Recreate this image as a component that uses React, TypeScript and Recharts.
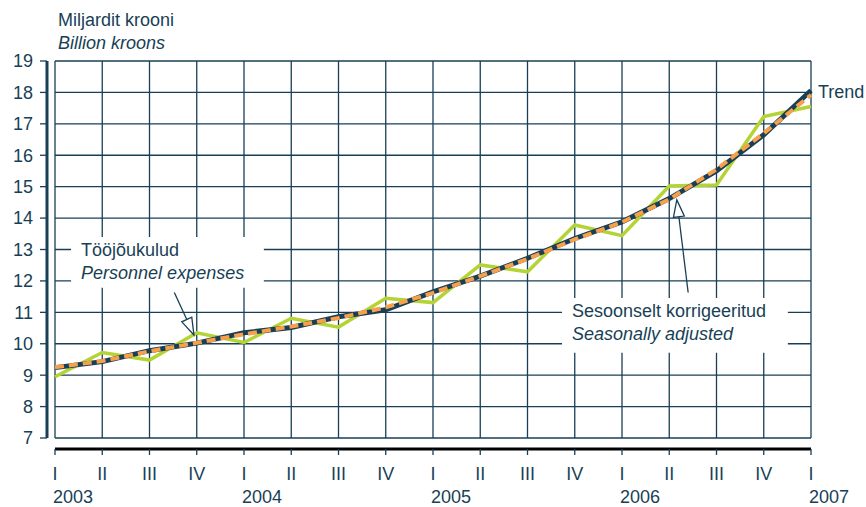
import { CartesianGrid, LabelList, Line, LineChart, ReferenceArea, ReferenceLine, XAxis, YAxis } from 'recharts'

const quarters = ['I', 'II', 'III', 'IV', 'I', 'II', 'III', 'IV', 'I', 'II', 'III', 'IV', 'I', 'II', 'III', 'IV', 'I']
const years = ['2003', '', '', '', '2004', '', '', '', '2005', '', '', '', '2006', '', '', '', '2007']

// Tööjõukulud (unadjusted), seasonally adjusted and trend, bn EEK
const personnel = [8.95, 9.72, 9.48, 10.35, 10.04, 10.81, 10.53, 11.45, 11.31, 12.51, 12.29, 13.78, 13.44, 15.02, 15.05, 17.23, 17.55]
const seasonal = [9.25, 9.45, 9.76, 10.03, 10.3, 10.55, 10.82, 11.16, 11.62, 12.15, 12.7, 13.32, 13.87, 14.6, 15.55, 16.7, 17.92]
const trend = [9.24, 9.43, 9.78, 10.02, 10.35, 10.52, 10.86, 11.08, 11.65, 12.15, 12.72, 13.35, 13.88, 14.62, 15.5, 16.65, 18.06]

const yTicks = [7, 8, 9, 10, 11, 12, 13, 14, 15, 16, 17, 18, 19]

const data = quarters.map((q, i) => ({
  idx: i,
  personnel: personnel[i],
  seasonal: seasonal[i],
  trend: trend[i],
}))
const xTicks = data.map((d) => d.idx)

const NAVY = '#183f56'
const GREEN = '#b4d334'
const ORANGE = '#f7a04b'
const FONT = '"Liberation Sans", Arial, sans-serif'

const QuarterTick = ({ x, y, payload }: any) => {
  const i = payload.value as number
  return (
    <g>
      <text x={x} y={y + 23} textAnchor="middle" fill={NAVY} fontSize={18} fontFamily={FONT}>
        {quarters[i]}
      </text>
      {years[i] && (
        <text x={x - 2} y={y + 46} textAnchor="start" fill={NAVY} fontSize={18} fontFamily={FONT}>
          {years[i]}
        </text>
      )}
    </g>
  )
}

const boxLabel = (lines: string[]) => (props: any) => {
  const { x, y } = props.viewBox
  return (
    <g>
      <text x={x + 10} y={y + 19} fill={NAVY} fontSize={18} fontFamily={FONT}>
        {lines[0]}
      </text>
      <text x={x + 10} y={y + 42} fill={NAVY} fontSize={18} fontStyle="italic" fontFamily={FONT}>
        {lines[1]}
      </text>
    </g>
  )
}

const Arrow = (props: any) => {
  const { x1, y1, x2, y2 } = props
  const dx = x2 - x1
  const dy = y2 - y1
  const len = Math.sqrt(dx * dx + dy * dy)
  const ux = dx / len
  const uy = dy / len
  const head = 17
  const half = 5.5
  const bx = x2 - ux * head
  const by = y2 - uy * head
  const pts = `${x2},${y2} ${bx - uy * half},${by + ux * half} ${bx + uy * half},${by - ux * half}`
  return (
    <g>
      <line x1={x1} y1={y1} x2={bx} y2={by} stroke={NAVY} strokeWidth={1.3} />
      <polygon points={pts} fill="#ffffff" stroke={NAVY} strokeWidth={1.3} />
    </g>
  )
}

const TrendLabel = (props: any) => {
  const { x, y, index } = props
  if (index !== trend.length - 1) return null
  return (
    <text x={x + 7} y={y + 7} fill={NAVY} fontSize={18} fontFamily={FONT}>
      Trend
    </text>
  )
}

export default function App() {
  return (
    <div style={{ position: 'absolute', left: 0, top: 0, width: 866, height: 507, background: '#fff', fontFamily: FONT }}>
      <div style={{ position: 'absolute', left: 58, top: 11, fontSize: 18, lineHeight: '18px', color: NAVY }}>
        Miljardit krooni
      </div>
      <div style={{ position: 'absolute', left: 58, top: 34, fontSize: 18, lineHeight: '18px', color: NAVY, fontStyle: 'italic' }}>
        Billion kroons
      </div>
      <LineChart width={866} height={507} data={data} margin={{ top: 61, right: 55, bottom: 0, left: 0 }}>
        <XAxis
          xAxisId="apad"
          dataKey="idx"
          type="number"
          domain={[0, 16]}
          ticks={xTicks}
          height={11}
          axisLine={false}
          tickLine={false}
          tick={false}
        />
        <XAxis
          xAxisId="main"
          dataKey="idx"
          type="number"
          domain={[0, 16]}
          ticks={xTicks}
          interval={0}
          height={58}
          axisLine={{ stroke: '#000', strokeWidth: 3 }}
          tickLine={{ stroke: NAVY, strokeWidth: 1.3 }}
          tickSize={6}
          tick={<QuarterTick />}
        />
        <YAxis
          yAxisId="apad"
          type="number"
          domain={[7, 19]}
          ticks={yTicks}
          interval={0}
          width={8}
          axisLine={false}
          tickLine={{ stroke: NAVY, strokeWidth: 1.3 }}
          tickSize={8}
          tick={() => <g />}
        />
        <YAxis
          yAxisId="main"
          type="number"
          domain={[7, 19]}
          ticks={yTicks}
          interval={0}
          width={47}
          axisLine={{ stroke: NAVY, strokeWidth: 3 }}
          tickLine={{ stroke: NAVY, strokeWidth: 1.3 }}
          tickSize={7}
          tickMargin={7}
          tick={{ fill: NAVY, fontSize: 18, fontFamily: FONT }}
        />
        <CartesianGrid xAxisId="main" yAxisId="main" stroke={NAVY} strokeWidth={1.3} horizontalValues={yTicks} verticalValues={xTicks} />
        <ReferenceArea
          xAxisId="main"
          yAxisId="main"
          x1={0.34}
          x2={4.42}
          y1={11.78}
          y2={13.4}
          fill="#ffffff"
          fillOpacity={1}
          stroke="none"
          label={{ content: boxLabel(['Tööjõukulud', 'Personnel expenses']) }}
        />
        <ReferenceArea
          xAxisId="main"
          yAxisId="main"
          x1={10.73}
          x2={15.51}
          y1={9.71}
          y2={11.46}
          fill="#ffffff"
          fillOpacity={1}
          stroke="none"
          label={{ content: boxLabel(['Sesoonselt korrigeeritud', 'Seasonally adjusted']) }}
        />
        <Line
          xAxisId="main"
          yAxisId="main"
          dataKey="personnel"
          stroke={GREEN}
          strokeWidth={3.5}
          dot={false}
          isAnimationActive={false}
        />
        <Line
          xAxisId="main"
          yAxisId="main"
          dataKey="trend"
          stroke={NAVY}
          strokeWidth={5}
          dot={false}
          isAnimationActive={false}
        >
          <LabelList dataKey="trend" content={<TrendLabel />} />
        </Line>
        <Line
          xAxisId="main"
          yAxisId="main"
          dataKey="seasonal"
          stroke={ORANGE}
          strokeWidth={4}
          strokeDasharray="9 5"
          dot={false}
          isAnimationActive={false}
        />
        <ReferenceLine
          xAxisId="main"
          yAxisId="main"
          segment={[{ x: 2.525, y: 11.63 }, { x: 2.94, y: 10.28 }]}
          shape={<Arrow />}
        />
        <ReferenceLine
          xAxisId="main"
          yAxisId="main"
          segment={[{ x: 13.4, y: 11.63 }, { x: 13.16, y: 14.58 }]}
          shape={<Arrow />}
        />
      </LineChart>
    </div>
  )
}
